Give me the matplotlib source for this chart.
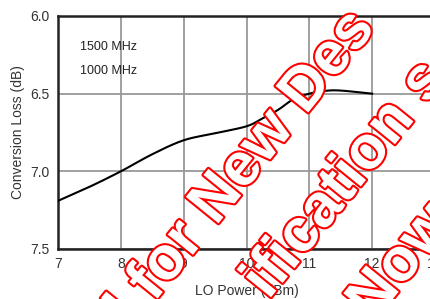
import numpy as np
import matplotlib.pyplot as plt
import matplotlib.patheffects as pe

# datos
lo_power = [7, 7.5, 8, 8.5, 9, 9.5, 10, 10.25, 10.5, 10.75, 11, 11.25, 11.5, 12]
conv_loss = [7.19, 7.10, 7.00, 6.89, 6.80, 6.755, 6.71, 6.66, 6.605, 6.535, 6.50, 6.482, 6.48, 6.50]
curve_labels = ["1500 MHz", "1000 MHz"]
x_ticks = [7, 8, 9, 10, 11, 12, 13]
y_ticks = [6.0, 6.5, 7.0, 7.5]

plt.rcParams['font.family'] = ['Liberation Sans', 'DejaVu Sans']


def suavizar(x, y, n=20):
    # curva catmull-rom solo para dibujar la linea sin quiebres
    x = np.asarray(x, float)
    y = np.asarray(y, float)
    px = np.concatenate([[2*x[0] - x[1]], x, [2*x[-1] - x[-2]]])
    py = np.concatenate([[2*y[0] - y[1]], y, [2*y[-1] - y[-2]]])
    xs, ys = [], []
    t = np.linspace(0, 1, n, endpoint=False)
    for i in range(1, len(px) - 2):
        for p, out in ((px, xs), (py, ys)):
            p0, p1, p2, p3 = p[i-1], p[i], p[i+1], p[i+2]
            out.extend(0.5*((2*p1) + (-p0 + p2)*t + (2*p0 - 5*p1 + 4*p2 - p3)*t**2
                            + (-p0 + 3*p1 - 3*p2 + p3)*t**3))
    xs.append(x[-1])
    ys.append(y[-1])
    return xs, ys


fig = plt.figure(figsize=(4.30, 2.99), dpi=100)
ax = fig.add_axes([58/430, 1 - 249/299, 377/430, 233/299])

xs, ys = suavizar(lo_power, conv_loss)
ax.plot(xs, ys, color="black", lw=1.5, zorder=3)

ax.set_xlim(7, 13)
ax.set_ylim(7.5, 6.0)
ax.set_xticks(x_ticks)
ax.set_yticks(y_ticks)
ax.set_yticklabels([f"{v:.1f}" for v in y_ticks])
ax.grid(True, color="#999999", lw=1.3)
ax.tick_params(length=0, labelsize=10, colors="#333333", pad=6)
for s in ["left", "bottom", "top"]:
    ax.spines[s].set_linewidth(1.8)
    ax.spines[s].set_color("#222222")
ax.spines["right"].set_visible(False)

ax.set_xlabel("LO Power (dBm)", fontsize=10, color="#333333", labelpad=9)
ax.set_ylabel("Conversion Loss (dB)", fontsize=10, color="#333333", labelpad=4)

for i, lab in enumerate(curve_labels):
    ax.text(0.058, 0.867 - i * 0.103, lab, transform=ax.transAxes, fontsize=9,
            color="#222222", va="center")

# marca de agua
wm = [("d for New Des", 236, 177), ("ification s", 346, 180), ("Now", 402, 263)]
efecto = [pe.withStroke(linewidth=3, foreground="red")]
for txt, px, py in wm:
    fig.text(px / 430, 1 - py / 299, txt, fontsize=44, fontweight="bold", color="white",
             rotation=51, rotation_mode="anchor", ha="center", va="center",
             path_effects=efecto, zorder=10)

fig.savefig("out.png", dpi=100)
